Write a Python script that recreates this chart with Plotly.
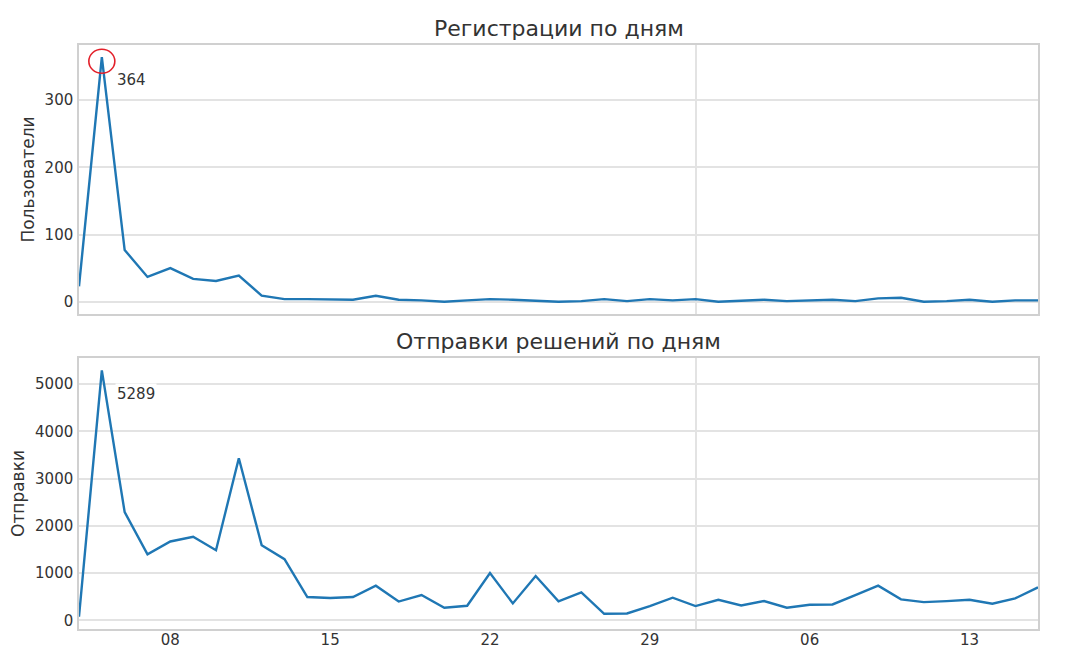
import pandas as pd
import plotly.graph_objects as go
from plotly.subplots import make_subplots

# Days from 04 Sep to 16 Oct
dates = pd.date_range("2023-09-04", "2023-10-16", freq="D")

registrations = [23, 364, 77, 37, 50, 34, 31, 39, 9, 4, 4, 4, 3, 9, 3, 2, 0, 2, 4, 3, 2, 0,
                 1, 4, 1, 4, 2, 4, 0, 2, 3, 1, 2, 3, 1, 5, 6, 0, 1, 3, 0, 2, 2]

submissions = [80, 5289, 2290, 1400, 1670, 1770, 1485, 3430, 1590, 1295, 495, 475, 495, 735,
               400, 537, 269, 311, 1004, 361, 941, 403, 594, 141, 148, 304, 481, 304, 438,
               318, 410, 269, 332, 339, 537, 735, 446, 389, 410, 438, 354, 467, 700]

tick_dates = ["2023-09-08", "2023-09-15", "2023-09-22", "2023-09-29", "2023-10-06", "2023-10-13"]
tick_labels = ["08", "15", "22", "29", "06", "13"]
month_start = ["2023-10-01"]

titles = ["Регистрации по дням", "Отправки решений по дням"]
ylabels = ["Пользователи", "Отправки"]

FONT = "DejaVu Sans"
TXT = "#333333"
GRID = "#e3e3e3"
SPINE = "#d0d0d0"
BLUE = "#1f77b4"

fig = make_subplots(rows=2, cols=1, shared_xaxes=False)

fig.add_trace(go.Scatter(x=dates, y=registrations, mode="lines",
                         line=dict(color=BLUE, width=2.4), showlegend=False), row=1, col=1)
fig.add_trace(go.Scatter(x=dates, y=submissions, mode="lines",
                         line=dict(color=BLUE, width=2.4), showlegend=False), row=2, col=1)

def yr(vals):
    lo, hi = min(vals), max(vals)
    m = 0.05 * (hi - lo)
    return [lo - m, hi + m]

xcommon = dict(
    type="date", range=[dates[0], dates[-1]],
    tickvals=tick_dates, ticktext=tick_labels,
    showgrid=False, zeroline=False,
    showline=True, mirror=True, linecolor=SPINE, linewidth=1.5,
    ticks="", ticklabelstandoff=-4, tickfont=dict(family=FONT, size=15, color=TXT),
    minor=dict(tickmode="array", tickvals=month_start, showgrid=True,
               gridcolor=GRID, gridwidth=1.5, ticks=""),
)
ycommon = dict(
    showgrid=True, gridcolor=GRID, gridwidth=1.5, zeroline=False,
    showline=True, mirror=True, linecolor=SPINE, linewidth=1.5,
    ticks="outside", ticklen=1, tickcolor="rgba(0,0,0,0)",
    tickfont=dict(family=FONT, size=15, color=TXT),
)

fig.update_layout(
    width=1067, height=665,
    margin=dict(l=79, r=29, t=45, b=36),
    plot_bgcolor="white", paper_bgcolor="white",
    font=dict(family=FONT, color=TXT),
    xaxis=dict(xcommon, domain=[0, 1], showticklabels=False, anchor="y"),
    xaxis2=dict(xcommon, domain=[0, 1], anchor="y2"),
    yaxis=dict(ycommon, domain=[0.5394, 1.0], range=yr(registrations), dtick=100, tick0=0,
               title=dict(text=ylabels[0], font=dict(family=FONT, size=17, color=TXT), standoff=6)),
    yaxis2=dict(ycommon, domain=[0.0, 0.464], range=yr(submissions), dtick=1000, tick0=0,
                title=dict(text=ylabels[1], font=dict(family=FONT, size=17, color=TXT), standoff=6)),
)

# panel titles
for dom_top, t in [(1.0, titles[0]), (0.464, titles[1])]:
    fig.add_annotation(text=t, xref="paper", yref="paper", x=0.5, y=dom_top,
                       xanchor="center", yanchor="bottom", yshift=2, showarrow=False,
                       font=dict(family=FONT, size=22, color=TXT))

# peak labels
i1 = registrations.index(max(registrations))
fig.add_annotation(x=dates[i1], y=registrations[i1], xref="x", yref="y", text=str(registrations[i1]),
                   showarrow=False, xanchor="left", yanchor="top", xshift=13, yshift=-12,
                   bgcolor="white", font=dict(family=FONT, size=15, color=TXT))
i2 = submissions.index(max(submissions))
fig.add_annotation(x=dates[i2], y=submissions[i2], xref="x2", yref="y2", text=str(submissions[i2]),
                   showarrow=False, xanchor="left", yanchor="top", xshift=13, yshift=-13,
                   bgcolor="white", font=dict(family=FONT, size=15, color=TXT))

# red hand-drawn circle around the registrations peak
fig.add_shape(type="circle", xref="x", yref="y", xsizemode="pixel", ysizemode="pixel",
              xanchor=dates[i1], yanchor=registrations[i1],
              x0=-13, x1=13, y0=-16, y1=8, line=dict(color="#e3202a", width=1.6))

fig.write_html("out.html")
